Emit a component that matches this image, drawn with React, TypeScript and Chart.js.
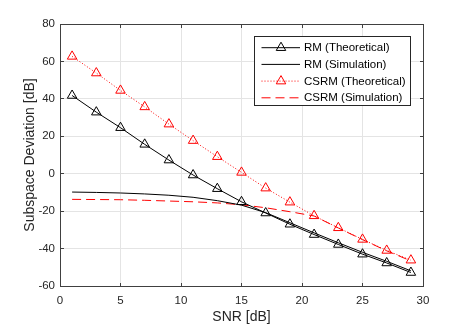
import React, { useEffect, useRef } from 'react';
import { Chart, registerables } from 'chart.js';

Chart.register(...registerables);

const snr = [1, 3, 5, 7, 9, 11, 13, 15, 17, 19, 21, 23, 25, 27, 29];
const rmTheory = [41.8, 32.9, 24.6, 15.7, 7.3, -0.7, -8.0, -15.0, -21.0, -27.0, -32.5, -37.8, -43.0, -47.7, -52.8];
const rmSim = [-9.8, -10.0, -10.3, -10.8, -11.5, -12.6, -14.4, -16.8, -20.8, -26.2, -31.6, -36.9, -42.0, -46.8, -51.9];
const csrmTheory = [62.7, 53.8, 44.5, 35.7, 26.5, 17.7, 9.1, 0.7, -7.7, -15.2, -22.5, -28.9, -35.1, -41.0, -46.2];
const csrmSim = [-13.7, -13.8, -13.9, -14.2, -14.6, -15.0, -15.6, -16.6, -18.2, -20.3, -22.6, -29.0, -35.2, -41.2, -46.6];

const seriesLabels = ['RM (Theoretical)', 'RM (Simulation)', 'CSRM (Theoretical)', 'CSRM (Simulation)'];
const xTitle = 'SNR [dB]';
const yTitle = 'Subspace Deviation [dB]';

const FONT = '"Liberation Sans", Arial, Helvetica, sans-serif';
const AXIS_COLOR = '#262626';

function toPoints(ys: number[]) {
  return snr.map((x, i) => ({ x, y: ys[i] }));
}

function drawTriangle(ctx: CanvasRenderingContext2D, x: number, y: number, r: number) {
  ctx.beginPath();
  for (let k = 0; k < 3; k++) {
    const a = (k * 2 * Math.PI) / 3;
    const px = x + Math.sin(a) * r;
    const py = y - Math.cos(a) * r;
    if (k === 0) ctx.moveTo(px, py);
    else ctx.lineTo(px, py);
  }
  ctx.closePath();
  ctx.stroke();
}

const framePlugin = {
  id: 'frameAndLegend',
  afterDraw(chart: any) {
    const { ctx, chartArea: a, scales } = chart;
    const al = (p: number) => Math.round(p - 0.5) + 0.5;
    ctx.save();
    ctx.strokeStyle = '#404040';
    ctx.lineWidth = 1;
    const L = al(a.left), R = al(a.right), T = al(a.top), B = al(a.bottom);
    ctx.strokeRect(L, T, R - L, B - T);
    const tl = 3.5;
    ctx.beginPath();
    scales.x.ticks.forEach((t: any) => {
      const px = al(scales.x.getPixelForValue(t.value));
      ctx.moveTo(px, B); ctx.lineTo(px, B - tl);
      ctx.moveTo(px, T); ctx.lineTo(px, T + tl);
    });
    scales.y.ticks.forEach((t: any) => {
      const py = al(scales.y.getPixelForValue(t.value));
      ctx.moveTo(L, py); ctx.lineTo(L + tl, py);
      ctx.moveTo(R, py); ctx.lineTo(R - tl, py);
    });
    ctx.stroke();

    // legend
    const bx = 254.5, by = 36.5, bw = 156, bh = 69;
    ctx.fillStyle = '#ffffff';
    ctx.fillRect(bx, by, bw, bh);
    ctx.strokeStyle = '#262626';
    ctx.strokeRect(bx, by, bw, bh);
    const datasets = chart.data.datasets;
    datasets.forEach((ds: any, i: number) => {
      const y = 47.7 + i * 16.7;
      ctx.save();
      ctx.strokeStyle = ds.borderColor;
      ctx.lineWidth = ds.borderWidth || 1;
      ctx.setLineDash(ds.borderDash || []);
      ctx.beginPath();
      ctx.moveTo(261.5, y);
      ctx.lineTo(300, y);
      ctx.stroke();
      ctx.setLineDash([]);
      if (ds.pointRadius > 0) {
        ctx.strokeStyle = ds.pointBorderColor || ds.borderColor;
        drawTriangle(ctx, 281, y, ds.pointRadius);
      }
      ctx.restore();
      ctx.fillStyle = '#000000';
      ctx.font = `11.5px ${FONT}`;
      ctx.textBaseline = 'middle';
      ctx.textAlign = 'left';
      ctx.fillText(ds.label, 304, y + 0.5);
    });
    ctx.restore();
  },
};

export default function App() {
  const ref = useRef<HTMLCanvasElement | null>(null);

  useEffect(() => {
    if (!ref.current) return;
    const tickFont = { family: FONT, size: 11.5 };
    const titleFont = { family: FONT, size: 14 };
    const chart = new Chart(ref.current, {
      type: 'line',
      data: {
        datasets: [
          {
            label: seriesLabels[0],
            data: toPoints(rmTheory),
            borderColor: '#000000',
            borderWidth: 1,
            pointStyle: 'triangle',
            pointRadius: 5.5,
            pointBorderColor: '#000000',
            pointBackgroundColor: 'rgba(0,0,0,0)',
            pointBorderWidth: 1,
          },
          {
            label: seriesLabels[1],
            data: toPoints(rmSim),
            borderColor: '#000000',
            borderWidth: 1,
            pointRadius: 0,
          },
          {
            label: seriesLabels[2],
            data: toPoints(csrmTheory),
            borderColor: '#ff0000',
            borderWidth: 1,
            borderDash: [1, 2],
            pointStyle: 'triangle',
            pointRadius: 5.5,
            pointBorderColor: '#ff0000',
            pointBackgroundColor: 'rgba(0,0,0,0)',
            pointBorderWidth: 1,
          },
          {
            label: seriesLabels[3],
            data: toPoints(csrmSim),
            borderColor: '#ff0000',
            borderWidth: 1,
            borderDash: [9, 5],
            pointRadius: 0,
          },
        ],
      },
      options: {
        animation: false,
        responsive: false,
        devicePixelRatio: 1,
        layout: { padding: { top: 24, right: 44, left: 0, bottom: 0 } },
        elements: { line: { tension: 0, fill: false } },
        plugins: { legend: { display: false }, tooltip: { enabled: false } },
        scales: {
          x: {
            type: 'linear',
            min: 0,
            max: 30,
            ticks: { stepSize: 5, color: AXIS_COLOR, font: tickFont, padding: 8 },
            grid: { color: '#e4e4e4', drawTicks: false },
            border: { display: false },
            title: { display: true, text: xTitle, color: AXIS_COLOR, font: titleFont, padding: { top: 0, bottom: 1 } },
            afterFit: (s: any) => { s.height = 41; },
          },
          y: {
            type: 'linear',
            min: -60,
            max: 80,
            ticks: { stepSize: 20, color: AXIS_COLOR, font: tickFont, padding: 5 },
            grid: { color: '#e4e4e4', drawTicks: false },
            border: { display: false },
            title: { display: true, text: yTitle, color: AXIS_COLOR, font: titleFont, padding: { top: 21.5, bottom: 0 } },
            afterFit: (s: any) => { s.width = 60; },
          },
        },
      },
      plugins: [framePlugin],
    } as any);
    return () => chart.destroy();
  }, []);

  return (
    <div style={{ position: 'absolute', left: 0, top: 0, width: 467, height: 327, background: '#ffffff' }}>
      <canvas ref={ref} width={467} height={327} style={{ display: 'block' }} />
    </div>
  );
}
